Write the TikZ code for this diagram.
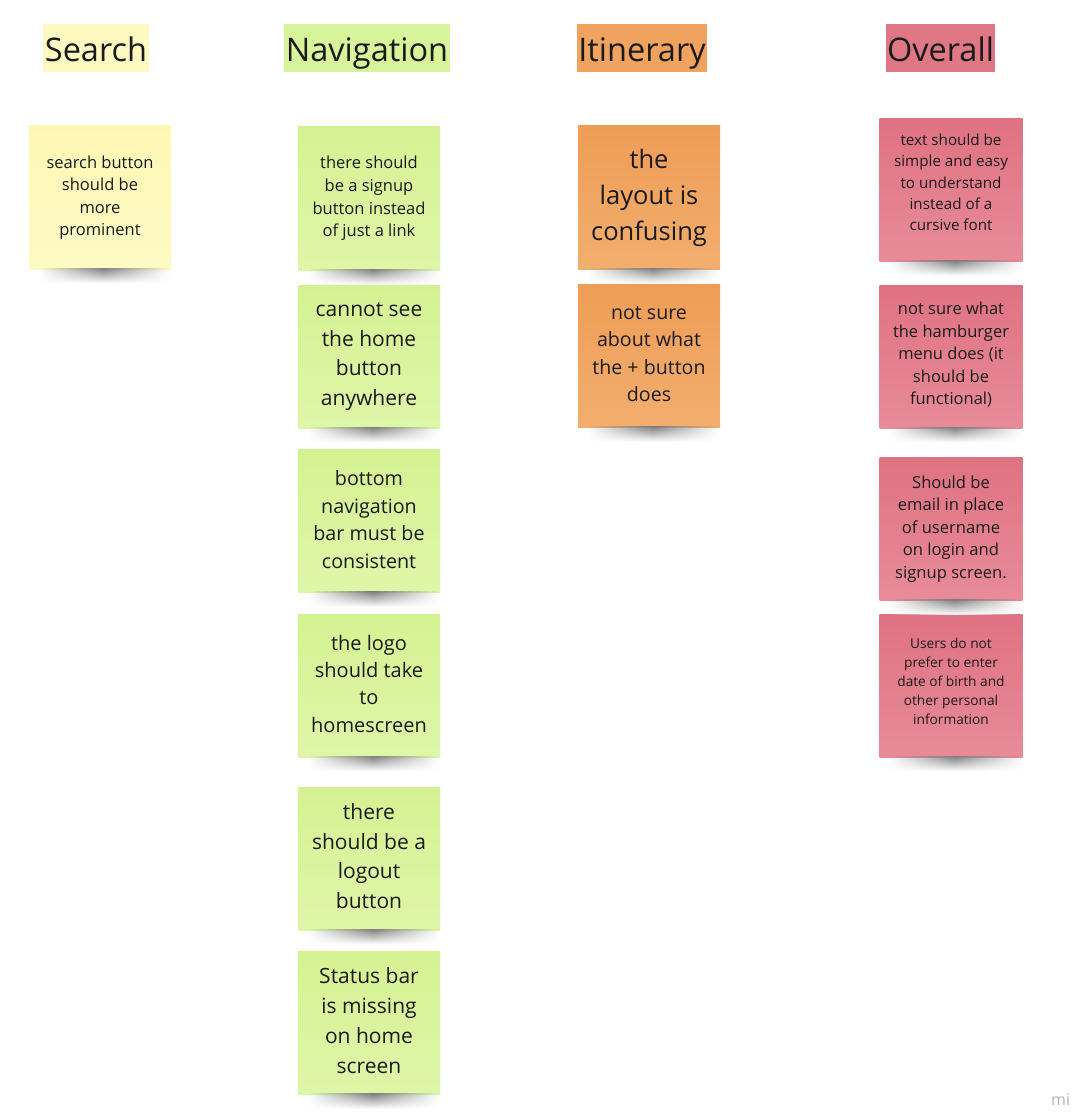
\documentclass[tikz,border=0pt]{standalone}
\usepackage{fontspec}
\setmainfont{Open Sans}
\usetikzlibrary{fadings}
\definecolor{ylwT}{HTML}{FEF7B4}
\definecolor{ylwB}{HTML}{FEFAC4}
\definecolor{grnT}{HTML}{D5F292}
\definecolor{grnB}{HTML}{DEF6A8}
\definecolor{orgT}{HTML}{EE9D56}
\definecolor{orgB}{HTML}{F2AE6E}
\definecolor{pnkT}{HTML}{DF7282}
\definecolor{pnkB}{HTML}{E88B99}
\definecolor{ylwH}{HTML}{FEF9C0}
\definecolor{grnH}{HTML}{D8F49A}
\definecolor{orgH}{HTML}{EFA35E}
\definecolor{pnkH}{HTML}{E07785}
\definecolor{inkc}{HTML}{1A1A1A}
\tikzfading[name=fadeLR, left color=transparent!100, right color=transparent!100, middle color=transparent!0]
\newcommand{\fs}[2]{\fontsize{#1}{#2}\selectfont}
\newcommand{\dn}[1]{\rule[-#1]{0pt}{#1}}
\tikzset{
  note/.style={minimum width=142, minimum height=143, inner sep=0pt, align=center, text=inkc},
  ynote/.style={note, top color=ylwT, bottom color=ylwB},
  gnote/.style={note, top color=grnT, bottom color=grnB},
  onote/.style={note, top color=orgT, bottom color=orgB},
  pnote/.style={note, top color=pnkT, bottom color=pnkB, minimum width=143},
  hdr/.style={text height=37.7, text depth=10.3, inner xsep=1.5pt, inner ysep=0pt, text=inkc, font=\fs{32.5}{38}},
  shadowbar/.style={top color=black!50, bottom color=white, path fading=fadeLR}
}
\newcommand{\shadowunder}[1]{%
  \shade[shadowbar] ([xshift=10,yshift=1]#1.south west) rectangle ([xshift=-2,yshift=-14]#1.south east);}
\begin{document}
\begin{tikzpicture}[x=1pt,y=-1pt]
\fill[white] (0,0) rectangle (1074,1118);
\useasboundingbox (0,0) rectangle (1074,1118);

% headers
\node[hdr, fill=ylwH] (hsearch) at (96,48) {Search};
\node[hdr, fill=grnH] (hnav) at (367,48) {Navigation};
\node[hdr, fill=orgH] (hitin) at (642,48) {Itinerary};
\node[hdr, fill=pnkH] (hover) at (940.5,48) {Overall};

% Search
\node[ynote, font=\fs{16.5}{22.5}] (s1) at (100,197.5) {search button\\should be\\more\\prominent\dn{2pt}};

% Navigation
\node[gnote, font=\fs{16.5}{22.7}] (n1) at (369,198.5) {there should\\be a signup\\button instead\\of just a link\dn{4pt}};
\node[gnote, font=\fs{21}{29.5}] (n2) at (369,356.5) {cannot see\\the home\\button\\anywhere};
\node[gnote, font=\fs{19.7}{27.5}] (n3) at (369,521) {bottom\\navigation\\bar must be\\consistent\dn{3pt}};
\node[gnote, font=\fs{20}{27.3}] (n4) at (369,685.5) {the logo\\should take\\to\\homescreen\dn{4pt}};
\node[gnote, font=\fs{21}{29.7}] (n5) at (369,858.5) {there\\should be a\\logout\\button\dn{5pt}};
\node[gnote, font=\fs{21}{30}] (n6) at (369,1023) {Status bar\\is missing\\on home\\screen\dn{5pt}};

% Itinerary
\node[onote, font=\fs{25.5}{36}] (i1) at (649,197.5) {the\\layout is\\confusing\dn{2pt}};
\node[onote, font=\fs{19.6}{27.3}] (i2) at (649,356) {not sure\\about what\\the + button\\does\dn{4pt}};

% Overall
\node[pnote, font=\fs{15.2}{21.3}] (o1) at (951,190) {text should be\\simple and easy\\to understand\\instead of a\\cursive font\dn{15pt}};
\node[pnote, font=\fs{16.5}{22.5}] (o2) at (951,356.5) {not sure what\\the hamburger\\menu does (it\\should be\\functional)\dn{6pt}};
\node[pnote, font=\fs{16.6}{22.6}] (o3) at (951,529) {Should be\\email in place\\of username\\on login and\\signup screen.};
\node[pnote, font=\fs{13.7}{19}] (o4) at (951,685.5) {Users do not\\prefer to enter\\date of birth and\\other personal\\information\dn{8pt}};

% shadows
\foreach \n in {s1,n1,n2,n3,n4,n5,n6,i1,i2,o1,o2,o3,o4} {\shadowunder{\n}}

% partial logo text
\node[anchor=west, text=black!30, font=\fs{16}{18}, inner sep=0pt] (logo) at (1051,1100) {mi};
\end{tikzpicture}
\end{document}
